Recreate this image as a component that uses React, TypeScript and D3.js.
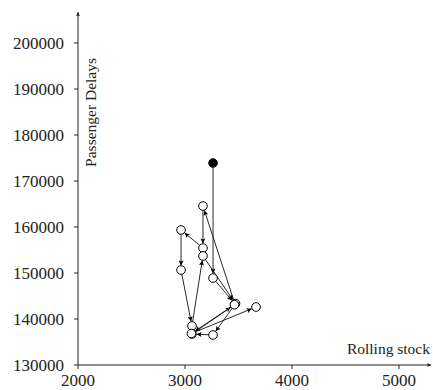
import React from "react";
import * as d3 from "d3";

// Connected scatter: rolling stock vs passenger delays (sequence order)
const rollingStock = [3262, 3262, 3467, 3168, 3168, 2963, 2963, 3065, 3168, 3472, 3262, 3065, 3462, 3060, 3664];
const passengerDelays = [173900, 148900, 143260, 164560, 155430, 159350, 150650, 138480, 153700, 143350, 136520, 136740, 143100, 136850, 142610];
const xTicks = [2000, 3000, 4000, 5000];
const yTicks = [130000, 140000, 150000, 160000, 170000, 180000, 190000, 200000];

const W = 433;
const H = 390;
const FONT = "Liberation Serif, DejaVu Serif, serif";

export default function App() {
  const x = d3.scaleLinear().domain([2000, 5000]).range([78, 399]);
  const y = d3.scaleLinear().domain([130000, 200000]).range([365, 43]);
  const x0 = x(2000);
  const y0 = y(130000);
  const xEnd = x(5300);
  const yEnd = y(206700);
  const r = 4.3;

  const pts = rollingStock.map((v, i) => ({ px: x(v), py: y(passengerDelays[i]) }));
  const segs = pts.slice(1).map((p, i) => {
    const a = pts[i];
    const dx = p.px - a.px;
    const dy = p.py - a.py;
    const len = Math.hypot(dx, dy) || 1;
    const ux = dx / len;
    const uy = dy / len;
    return {
      x1: a.px + ux * r,
      y1: a.py + uy * r,
      x2: p.px - ux * (r + 0.3),
      y2: p.py - uy * (r + 0.3),
    };
  });

  return (
    <svg width={W} height={H} style={{ position: "absolute", left: 0, top: 0, background: "#fff" }}>
      <defs>
        <marker id="arr" viewBox="0 0 10 10" refX="10" refY="5" markerWidth="7" markerHeight="5" markerUnits="userSpaceOnUse" orient="auto">
          <path d="M0,0 L10,5 L0,10 L2,5 z" fill="#000" />
        </marker>
        <marker id="axarr" viewBox="0 0 10 10" refX="10" refY="5" markerWidth="6" markerHeight="4" markerUnits="userSpaceOnUse" orient="auto">
          <path d="M0,0 L10,5 L0,10 L2,5 z" fill="#222" />
        </marker>
      </defs>
      {/* axes */}
      <line x1={x0} y1={y0} x2={xEnd} y2={y0} stroke="#222" strokeWidth={1} markerEnd="url(#axarr)" />
      <line x1={x0} y1={y0} x2={x0} y2={yEnd} stroke="#222" strokeWidth={1} markerEnd="url(#axarr)" />
      {xTicks.map((t) => (
        <g key={"x" + t}>
          <line x1={x(t)} x2={x(t)} y1={y0} y2={y0 + 4} stroke="#222" strokeWidth={1} />
          <text x={x(t)} y={y0 + 21} textAnchor="middle" fontFamily={FONT} fontSize={17} fill="#222">
            {t}
          </text>
        </g>
      ))}
      {yTicks.map((t) => (
        <g key={"y" + t}>
          <line x1={x0 - 4} x2={x0} y1={y(t)} y2={y(t)} stroke="#222" strokeWidth={1} />
          <text x={x0 - 14} y={y(t) + 5.5} textAnchor="end" fontFamily={FONT} fontSize={17} fill="#222">
            {t}
          </text>
        </g>
      ))}
      <text x={430} y={354} textAnchor="end" fontFamily={FONT} fontSize={15.5} fill="#222">
        Rolling stock
      </text>
      <text transform="translate(96,58) rotate(-90)" textAnchor="end" fontFamily={FONT} fontSize={15.5} fill="#222">
        Passenger Delays
      </text>
      {/* path segments */}
      {segs.map((s, i) => (
        <line key={"s" + i} x1={s.x1} y1={s.y1} x2={s.x2} y2={s.y2} stroke="#111" strokeWidth={0.9} markerEnd="url(#arr)" />
      ))}
      {pts.map((p, i) => (
        <circle key={"p" + i} cx={p.px} cy={p.py} r={r} fill={i === 0 ? "#000" : "#fff"} stroke="#000" strokeWidth={1} />
      ))}
    </svg>
  );
}
